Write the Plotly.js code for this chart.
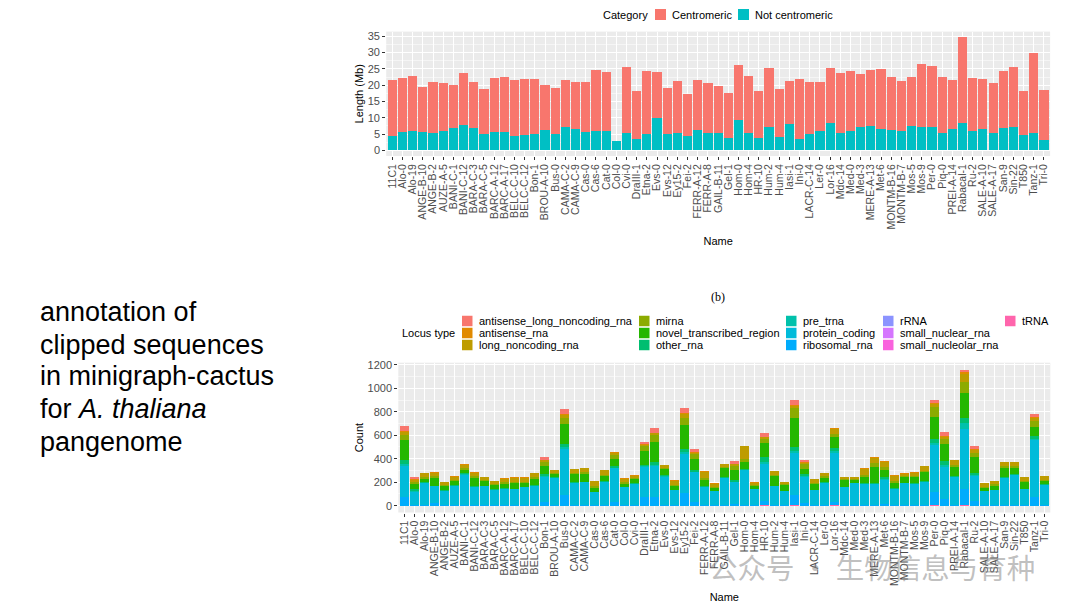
<!DOCTYPE html>
<html><head><meta charset="utf-8">
<script src="https://cdn.plot.ly/plotly-3.0.1.min.js"></script>
<style>html,body{margin:0;padding:0;background:#fff}#chart{width:1080px;height:608px}</style>
</head><body><div id="chart"></div>
<script>
// ---------- data ----------
const names = ['11C1','Alo-0','Alo-19','ANGE-B-10','ANGE-B-2','AUZE-A-5','BANI-C-1','BANI-C-12','BARA-C-3','BARA-C-5',
'BARC-A-12','BARC-A-17','BELC-C-10','BELC-C-12','Bon-1','BROU-A-10','Bus-0','CAMA-C-2','CAMA-C-9','Cas-0',
'Cas-6','Cat-0','Col-0','Cvi-0','DraIII-1','Etna-2','Evs-0','Evs-12','Ey15-2','Fei-2',
'FERR-A-12','FERR-A-8','GAIL-B-11','Gel-1','Hom-0','Hom-4','HR-10','Hum-2','Hum-4','Iasi-1',
'Ini-0','LACR-C-14','Ler-0','Lor-16','Mdc-14','Med-0','Med-3','MERE-A-13','Met-6','MONTM-B-16',
'MONTM-B-7','Mos-5','Mos-9','Per-0','Piq-0','PREI-A-14','Rabacal-1','Ru-2','SALE-A-10','SALE-A-17',
'San-9','Sin-22','T850','Tanz-1','Tri-0'];

// Length (Mb)
const notCentromeric = [4.5,5.7,5.9,5.7,5.4,5.8,7.0,7.8,6.8,5.0, 5.6,5.7,4.3,4.7,5.0,6.2,4.9,7.3,6.7,5.5,
5.9,5.9,2.9,5.2,3.4,5.1,10.0,5.1,5.4,4.5, 6.3,5.2,5.4,3.8,9.3,5.2,3.8,7.2,4.1,8.0,
3.6,5.0,5.9,8.5,5.2,5.9,7.1,7.6,6.7,6.2, 5.8,7.6,7.1,7.1,5.4,6.4,8.3,5.9,6.4,5.2, 7.0,7.3,4.8,5.4,3.1];
const centromeric = [17.1,16.6,16.8,13.6,15.5,15.0,13.2,15.9,14.3,13.7, 16.7,16.7,17.3,17.3,17.0,13.8,14.2,14.4,14.4,15.5,
18.8,18.1,0,20.3,14.9,19.4,14.0,13.9,15.8,12.7, 15.4,15.4,14.3,13.9,17.0,17.7,14.3,18.2,14.6,13.2,
18.2,16.1,15.2,16.7,18.4,18.6,16.4,17.2,18.2,16.2, 15.5,14.8,19.4,18.7,17.0,15.2,26.4,16.3,15.5,15.4, 17.4,18.3,13.5,24.5,15.3];
const categories = ['Centromeric','Not centromeric'];
const categoryColors = ['#F8766D','#00BFC4'];

// Locus counts
const antisenseLongNoncodingRna = [39,22,0,0,0,0,0,0,0,0, 0,0,0,0,22,0,42,0,0,0, 0,0,0,0,20,37,0,0,42,25,
0,0,0,22,0,0,31,0,0,50, 17,0,0,0,0,0,0,0,0,0, 0,0,0,28,34,0,22,28,0,0, 0,0,0,25,0];
const antisenseRna = [10,3,3,3,3,3,4,3,2,3, 3,3,3,3,6,3,8,3,3,3, 3,6,3,2,5,7,3,3,10,4,
4,3,3,4,5,3,4,3,3,7, 4,3,3,8,3,3,4,6,6,4, 3,3,3,9,7,4,12,8,3,3, 3,3,3,8,3];
const longNoncodingRna = [24,24,33,32,27,27,30,32,21,27, 32,35,36,36,16,29,26,33,33,43, 38,22,32,18,12,18,21,37,32,10,
52,25,22,12,110,18,12,29,20,18, 10,32,29,45,20,20,53,45,45,46, 20,29,38,28,21,41,72,28,32,29, 35,35,27,29,32];
const mirna = [42,10,12,10,9,9,14,10,8,9, 10,10,11,11,31,10,51,12,12,10, 12,28,10,8,45,59,10,11,62,42,
20,8,9,35,20,7,40,10,8,81, 42,10,10,22,8,8,16,34,28,14, 8,10,12,84,39,14,98,34,10,10, 12,12,9,48,10];
const novelTranscribedRegion = [171,50,30,67,36,36,25,73,44,36, 40,48,31,58,67,22,169,67,70,36, 44,65,25,39,115,163,56,31,205,98,
50,25,78,90,65,31,118,83,45,247, 42,48,39,96,56,19,52,134,56,45, 48,50,75,183,149,80,211,135,25,36, 80,55,64,84,22];
const otherRna = [38,14,4,6,4,4,12,6,4,3, 3,3,3,4,18,4,28,4,4,3, 4,10,3,3,14,28,10,3,28,10,
4,3,4,10,5,3,38,4,3,32, 20,3,3,30,3,3,4,6,15,10, 3,3,4,38,32,6,42,17,3,3, 4,4,3,19,10];
const preTrna = [18,6,0,0,0,0,5,0,0,0, 0,0,0,0,10,0,14,0,0,0, 0,4,0,0,6,14,4,0,14,4,
0,0,0,4,0,0,18,0,0,16, 8,0,0,15,0,0,0,0,7,4, 0,0,0,18,16,0,51,8,0,0, 0,0,0,9,4];
const proteinCoding = [258,110,191,146,121,165,256,154,159,130, 141,138,152,164,211,234,393,190,192,110,
199,287,155,183,253,258,239,127,329,253, 156,122,233,188,300,134,318,158,122,360,
225,128,192,413,152,189,183,183,208,134, 189,183,199,400,273,237,511,211,120,128, 233,258,134,492,170];
const ribosomalRna = [76,8,6,20,5,6,8,6,5,5, 5,5,5,5,34,6,90,6,6,5, 6,34,5,5,76,76,6,5,112,34,
6,4,6,14,6,4,34,8,4,90, 20,4,5,28,5,5,5,5,14,4, 5,5,6,106,56,8,132,42,4,4, 6,6,4,70,4];
const rRNA = [0,0,0,0,0,0,0,0,0,0, 0,0,0,0,0,0,1,0,0,0, 0,0,0,0,0,0,0,0,0,0,
0,0,0,0,0,0,0,0,0,0, 0,0,0,0,0,0,0,0,0,0, 0,0,0,0,0,0,2,0,0,0, 0,0,0,0,0];
const smallNuclearRna = [0,0,0,0,0,0,0,0,0,0, 0,0,0,0,0,0,0,0,0,0, 0,0,0,0,0,0,0,0,0,0,
0,0,0,0,0,0,0,0,0,1, 0,0,0,0,0,0,0,0,0,0, 0,0,0,0,0,0,2,0,0,0, 0,0,0,0,0];
const smallNucleolarRna = [0,0,0,0,0,0,0,0,0,0, 0,0,0,0,0,0,0,0,0,0, 0,0,0,0,0,0,0,0,0,0,
0,0,0,0,0,0,0,0,0,0, 0,0,0,3,0,0,0,0,0,0, 0,0,0,2,0,0,2,0,0,0, 0,0,0,0,0];
const tRNA = [0,0,0,0,0,0,0,0,0,0, 0,0,0,0,0,0,0,0,0,0, 0,0,0,0,0,0,0,0,0,0,
0,0,0,0,0,0,5,0,0,2, 0,0,0,3,0,0,0,0,0,0, 0,0,0,6,0,0,3,0,0,0, 0,0,0,0,0];

const locusTypes = ['antisense_long_noncoding_rna','antisense_rna','long_noncoding_rna','mirna','novel_transcribed_region',
'other_rna','pre_trna','protein_coding','ribosomal_rna','rRNA','small_nuclear_rna','small_nucleolar_rna','tRNA'];
const locusSeries = [antisenseLongNoncodingRna, antisenseRna, longNoncodingRna, mirna, novelTranscribedRegion,
otherRna, preTrna, proteinCoding, ribosomalRna, rRNA, smallNuclearRna, smallNucleolarRna, tRNA];
const locusColors = ['#F8766D','#E18A00','#BE9C00','#8CAB00','#24B700','#00BE70','#00C1AB','#00BBDA','#00ACFC',
'#8B93FF','#D575FE','#F962DD','#FF65AC'];

// ---------- helpers ----------
const W = 1080, H = 608;
const px = x => x / W;
const py = y => 1 - y / H;
const FONT = 'Liberation Sans, Arial, Helvetica, sans-serif';

// ---------- traces ----------
const traces = [];
// top chart: ggplot stacks first level on top -> add last level first
for (let k = categories.length - 1; k >= 0; k--) {
  traces.push({type:'bar', x:names, y: k === 0 ? centromeric : notCentromeric, name:categories[k],
    marker:{color:categoryColors[k], line:{width:0}}, xaxis:'x', yaxis:'y', showlegend:false, hoverinfo:'skip'});
}
for (let k = locusTypes.length - 1; k >= 0; k--) {
  traces.push({type:'bar', x:names, y:locusSeries[k], name:locusTypes[k],
    marker:{color:locusColors[k], line:{width:0}}, xaxis:'x2', yaxis:'y2', showlegend:false, hoverinfo:'skip'});
}

// ---------- axes ----------
function xAxis(domain, anchor, standoff){
  return {domain, anchor, type:'category', range:[-0.6, names.length - 0.4],
    tickmode:'array', tickvals:names, ticktext:names, tickangle:-90,
    ticks:'outside', ticklen:3, tickwidth:1, tickcolor:'#333333',
    tickfont:{family:FONT, size:10.5, color:'#4D4D4D'},
    showgrid:true, gridcolor:'#FFFFFF', gridwidth:1, zeroline:false, showline:false,
    title:{text:'Name', font:{family:FONT, size:11, color:'#000'}, standoff},
    automargin:false, fixedrange:true};
}
function yAxis(domain, anchor, range, dtick, title, standoff){
  return {domain, anchor, range, tick0:0, dtick,
    ticks:'outside', ticklen:3, tickwidth:1, tickcolor:'#333333',
    tickfont:{family:FONT, size:11, color:'#4D4D4D'},
    showgrid:true, gridcolor:'#FFFFFF', gridwidth:1, zeroline:false, showline:false,
    minor:{dtick:dtick/2, tick0:0, showgrid:true, gridcolor:'#FFFFFF', gridwidth:0.5, ticks:''},
    title:{text:title, font:{family:FONT, size:11, color:'#000'}, standoff},
    automargin:false, fixedrange:true};
}

const topMax = Math.max(...centromeric.map((v,i)=>v+notCentromeric[i]));
const botTotals = names.map((_,i)=>locusSeries.reduce((s,a)=>s+a[i],0));
const botMax = Math.max(...botTotals);

// ---------- legends (ggplot-style, built from category arrays) ----------
const shapes = [];
const annotations = [];
function txt(text, x, y, opts={}){
  annotations.push(Object.assign({text, x:px(x), y:py(y), xref:'paper', yref:'paper', showarrow:false,
    xanchor:'left', yanchor:'middle', font:{family:FONT, size:11, color:'#000'}}, opts));
}
function swatch(x, y, s, color){
  shapes.push({type:'rect', xref:'paper', yref:'paper', x0:px(x), x1:px(x+s), y0:py(y+s/2), y1:py(y-s/2),
    fillcolor:color, line:{width:0}});
}
// top legend
txt('Category', 601, 14.5);
const topItemX = [655, 738];
categories.forEach((c,k)=>{ swatch(topItemX[k], 14.5, 11, categoryColors[k]); txt(c, topItemX[k]+15, 14.5); });
// bottom legend (3 rows, column-major)
txt('Locus type', 399.5, 333);
const colX = [462, 639, 786, 883, 1005];
const rowY = [321, 333, 345];
locusTypes.forEach((t,k)=>{
  const cx = colX[Math.floor(k/3)], cy = rowY[k%3];
  swatch(cx, cy, 10.5, locusColors[k]);
  txt(t, cx+14.5, cy);
});

// other slide text
txt('(b)', 709, 297, {font:{family:'Liberation Serif, DejaVu Serif, serif', size:12, color:'#000'}});
const slideLines = ['annotation of','clipped sequences','in minigraph-cactus','for <i>A. thaliana</i>','pangenome'];
const slideY = [312, 344.5, 376.5, 409, 441.5];
slideLines.forEach((t,i)=> txt(t, 38, slideY[i], {font:{family:FONT, size:27, color:'#000'}}));
// watermark
annotations.push({text:'公众号 · 生物信息与育种', x:px(872), y:py(566), xref:'paper', yref:'paper', showarrow:false,
  xanchor:'center', yanchor:'middle', font:{family:'Noto Sans CJK SC, sans-serif', size:28.5, color:'rgba(130,130,130,0.5)'}});

const layout = {
  width:W, height:H, margin:{l:0,r:0,t:0,b:0}, paper_bgcolor:'#FFFFFF', plot_bgcolor:'#EBEBEB',
  barmode:'stack', bargap:0.1, showlegend:false, font:{family:FONT},
  xaxis: xAxis([px(386.2), px(1050.1)], 'y', 8),
  yaxis: yAxis([py(156.0), py(31.6)], 'x', [-0.05*topMax, 1.05*topMax], 5, 'Length (Mb)', 1),
  xaxis2: xAxis([px(398.3), px(1050.3)], 'y2', 8),
  yaxis2: yAxis([py(512.5), py(362.7)], 'x2', [-0.05*botMax, 1.05*botMax], 200, 'Count', 1),
  shapes, annotations
};
Plotly.newPlot('chart', traces, layout, {displayModeBar:false, staticPlot:true});
</script></body></html>
